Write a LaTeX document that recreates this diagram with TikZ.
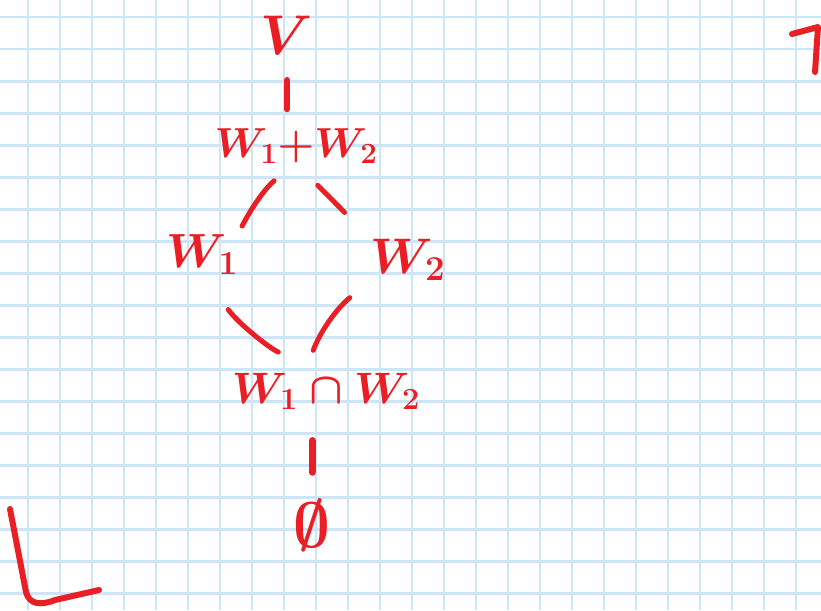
\RequirePackage{fix-cm}
\documentclass[tikz,border=0pt]{standalone}
\usetikzlibrary{calc}
\definecolor{pen}{RGB}{234,30,37}
\definecolor{gridblue}{RGB}{204,230,247}
\begin{document}
\begin{tikzpicture}[x=1pt,y=-1pt,
  lbl/.style={text=pen,inner sep=0pt,outer sep=0pt},
  conn/.style={draw=pen,line width=5pt,line cap=round},
  gridline/.style={draw=gridblue,line width=2.4pt},
  penline/.style={draw=pen,line width=6pt,line cap=round,line join=round}]
\fill[white] (0,0) rectangle (821,610);
\useasboundingbox (0,0) rectangle (821,610);
\foreach \i in {0,...,24} \draw[gridline] ({27.7+32*\i},0) -- ({27.7+32*\i},610);
\foreach \j in {0,...,18} \draw[gridline] (0,{17.3+32*\j}) -- (821,{17.3+32*\j});
% nodes
\node[lbl,anchor=base,font=\fontsize{56}{60}\selectfont\boldmath] (V) at (287,55) {$V$};
\node[lbl,anchor=base,font=\fontsize{42}{48}\selectfont\boldmath] (join) at (296,157) {$W_1{+}W_2$};
\node[lbl,anchor=base,font=\fontsize{48}{54}\selectfont\boldmath] (w1) at (202,267) {$W_1$};
\node[lbl,anchor=base,font=\fontsize{50}{56}\selectfont\boldmath] (w2) at (408,273) {$W_2$};
\node[lbl,anchor=base,font=\fontsize{44}{50}\selectfont\boldmath] (meet) at (326,403) {$W_1\cap W_2$};
\node[lbl,font=\fontsize{64}{70}\selectfont\boldmath] (empty) at (312,525) {$\emptyset$};
% connectors
\draw[conn,line width=6pt,shorten <=25pt,shorten >=19pt] (V.south) -- (V.south |- join.north);
\draw[conn,shorten <=28pt,shorten >=9pt] (join.south) to[bend right=12] (w1.north east);
\draw[conn,shorten <=31pt,shorten >=37pt] (join.south) -- (w2.north west);
\draw[conn,shorten <=44pt,shorten >=52pt] (w1.south) to[bend right=15] (meet.north);
\draw[conn,shorten <=27pt,shorten >=24pt] (w2.south west) to[bend right=15] (meet.139);
\draw[conn,line width=7pt,shorten <=31pt,shorten >=27pt] (empty |- meet.south) -- (empty.north);
% corner marks
\draw[penline] (792,34) -- (818,27) -- (815,72);
\draw[penline] (10,509) -- (26,592) .. controls (29,604) and (40,606) .. (55,600) -- (99,590);
\end{tikzpicture}
\end{document}
